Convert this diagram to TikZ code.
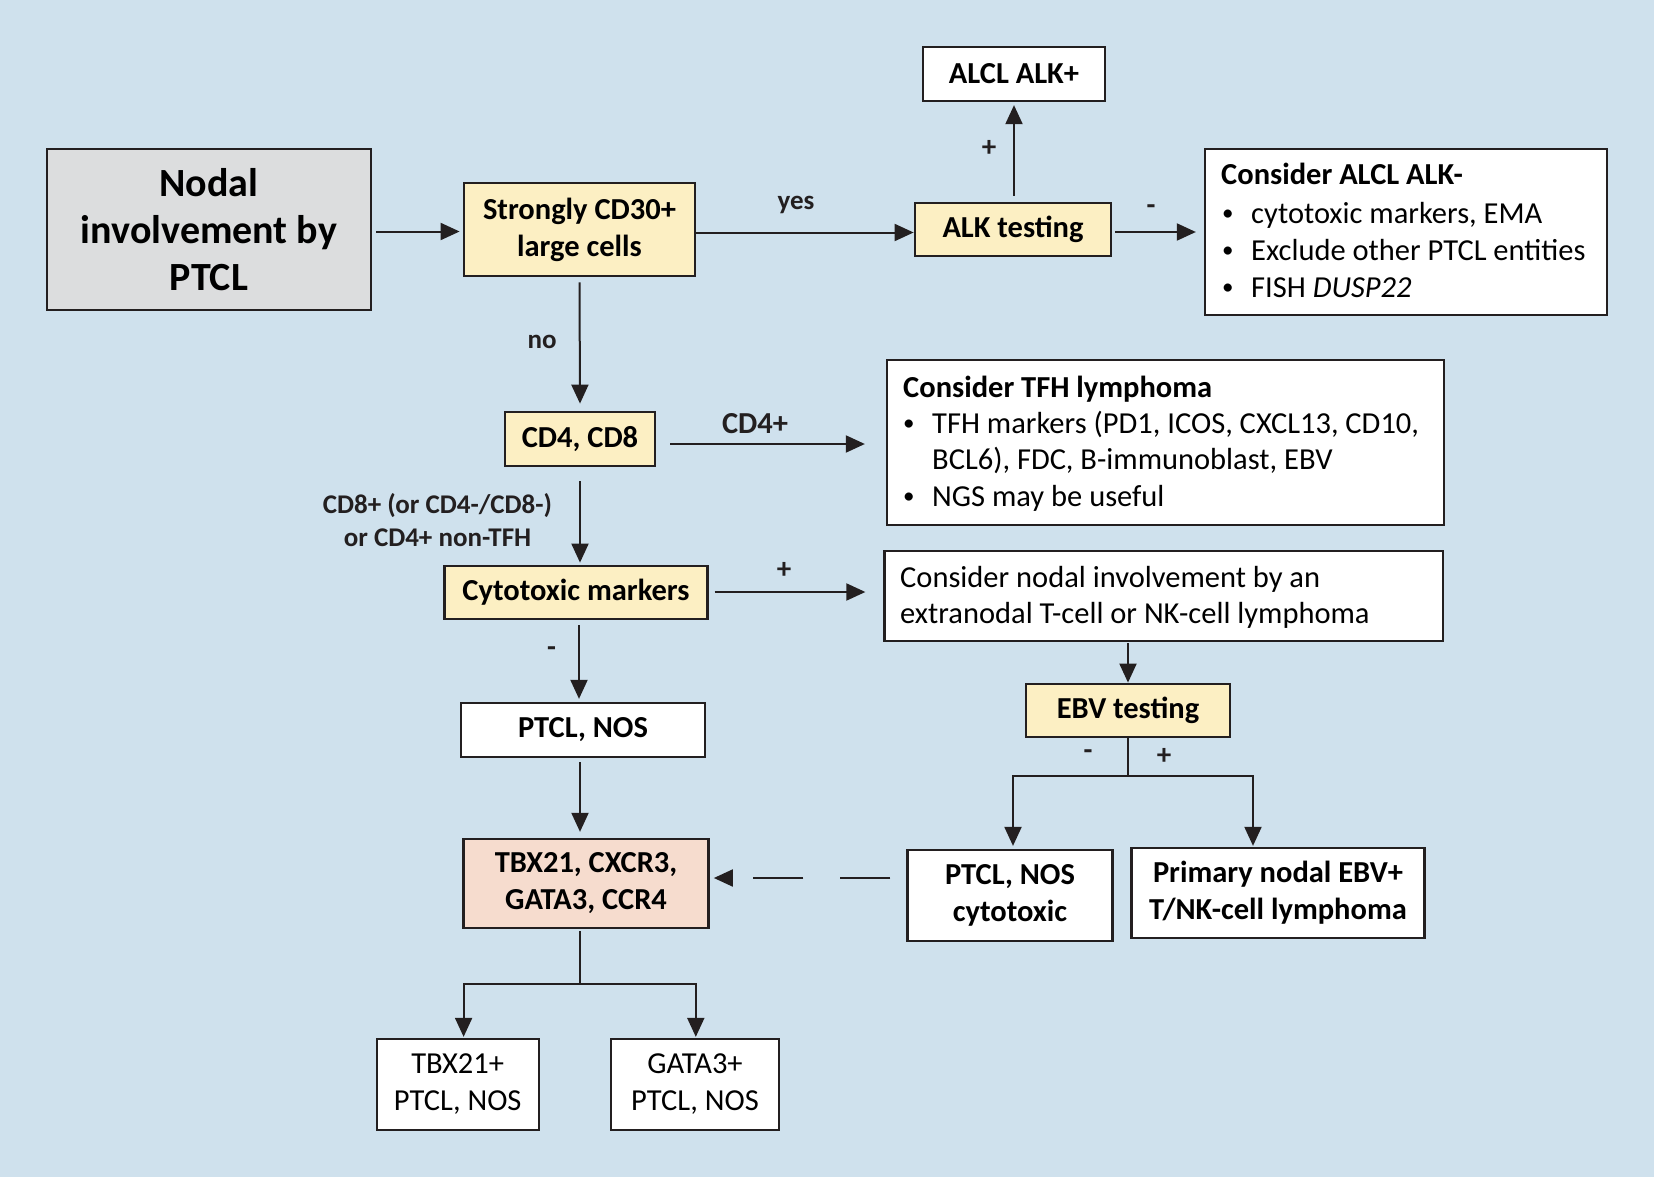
\documentclass[tikz,border=0pt]{standalone}
\usepackage{fontspec}
\setmainfont{Carlito}
\usetikzlibrary{arrows.meta,calc}
\definecolor{bgc}{HTML}{CFE1ED}
\definecolor{ylw}{HTML}{FCEFC3}
\definecolor{slm}{HTML}{F6DCCE}
\definecolor{gry}{HTML}{DCDDDE}
\definecolor{ln}{HTML}{231F20}
\newcommand{\mybul}{\raisebox{2.5pt}{\fontsize{23}{23}\selectfont\textbullet}}
\tikzset{
  box/.style={draw=ln, line width=2.3pt, inner sep=0pt, align=center},
  ybox/.style={box, fill=ylw, line width=2.8pt, font=\fontsize{30.5}{37}\selectfont\bfseries},
  wbox/.style={box, fill=white, font=\fontsize{30.5}{37}\selectfont\bfseries},
  rbox/.style={box, fill=white, font=\fontsize{30.5}{37}\selectfont},
  txt/.style={anchor=base west, inner sep=0pt, font=\fontsize{30.5}{37}\selectfont},
  btxt/.style={txt, font=\fontsize{30.5}{37}\selectfont\bfseries},
  lbl/.style={inner sep=0pt, font=\fontsize{27}{33}\selectfont\bfseries, text=ln, align=center},
  sgn/.style={lbl, font=\fontsize{29}{33}\selectfont\bfseries},
  arr/.style={draw=ln, line width=2pt, -{Triangle[length=19pt,width=17pt]}},
  arrb/.style={draw=ln, line width=2pt, {Triangle[length=19pt,width=17pt]}-{Triangle[length=19pt,width=17pt]}},
  ln/.style={draw=ln, line width=2pt}
}
\begin{document}
\begin{tikzpicture}[x=1pt,y=-1pt]
\fill[bgc] (0,0) rectangle (1654,1177);
\useasboundingbox (0,0) rectangle (1654,1177);

% nodes
\node[box, fill=gry, line width=2.2pt, minimum width=324pt, minimum height=161pt,
      font=\fontsize{40}{47}\selectfont\bfseries] (nodal) at (208.9,229.5) {Nodal\\involvement by\\PTCL};
\node[ybox, minimum width=231pt, minimum height=93pt] (cd30) at (579.5,229.5) {Strongly CD30+\\large cells};
\node[ybox, minimum width=196pt, minimum height=53pt] (alk) at (1013,229.5) {ALK testing};
\node[wbox, minimum width=182pt, minimum height=54pt] (alclpos) at (1014,74) {ALCL ALK+};
\node[rbox, minimum width=402pt, minimum height=166pt] (alclneg) at (1406,232) {};
\node[ybox, minimum width=150pt, minimum height=54pt] (cd48) at (580,439) {CD4, CD8};
\node[rbox, minimum width=557pt, minimum height=165pt] (tfh) at (1165.5,442.5) {};
\node[ybox, minimum width=262.5pt, minimum height=53pt] (cyto) at (576,592.5) {Cytotoxic markers};
\node[rbox, minimum width=558.5pt, minimum height=90pt] (nodalext) at (1163.75,596) {};
\node[wbox, minimum width=244.6pt, minimum height=54pt] (ptclnos) at (583,730) {PTCL, NOS};
\node[ybox, minimum width=204pt, minimum height=53pt] (ebv) at (1128,710.5) {EBV testing};
\node[box, fill=slm, minimum width=245pt, minimum height=89pt,
      font=\fontsize{30.5}{37}\selectfont\bfseries] (markers) at (586,883.5) {TBX21, CXCR3,\\GATA3, CCR4};
\node[wbox, minimum width=205pt, minimum height=90.7pt] (ptclcyto) at (1010,895.4) {PTCL, NOS\\cytotoxic};
\node[wbox, minimum width=293pt, minimum height=90.6pt] (ebvpos) at (1278,893) {Primary nodal EBV+\\T/NK-cell lymphoma};
\node[rbox, minimum width=162pt, minimum height=91pt] (tbxpos) at (457.7,1084.5) {TBX21+\\PTCL, NOS};
\node[rbox, minimum width=168pt, minimum height=91pt] (gatapos) at (695,1084.5) {GATA3+\\PTCL, NOS};

% texts inside list boxes
\node[btxt] (alclnegT) at (1221,185) {Consider ALCL ALK-};
\node[txt] (b1) at (1222,223) {\mybul};
\node[txt] (b1t) at (1251,223) {cytotoxic markers, EMA};
\node[txt] (b2) at (1222,260) {\mybul};
\node[txt] (b2t) at (1251,260) {Exclude other PTCL entities};
\node[txt] (b3) at (1222,297) {\mybul};
\node[txt] (b3t) at (1251,297) {FISH \textit{DUSP22}};

\node[btxt] (tfhT) at (903,397) {Consider TFH lymphoma};
\node[txt] (c1) at (903,433) {\mybul};
\node[txt] (c1t) at (932,433) {TFH markers (PD1, ICOS, CXCL13, CD10,};
\node[txt] (c1u) at (932,469) {BCL6), FDC, B-immunoblast, EBV};
\node[txt] (c2) at (903,506) {\mybul};
\node[txt] (c2t) at (932,506) {NGS may be useful};

\node[txt] (ne1) at (900,587) {Consider nodal involvement by an};
\node[txt] (ne2) at (900,623) {extranodal T-cell or NK-cell lymphoma};

% connectors
\draw[arr] ([xshift=4pt,yshift=-2pt]nodal.east) -- ([xshift=-3pt,yshift=-2pt]cd30.west);
\draw[arr] ([yshift=-3pt]cd30.east) -- ([yshift=-3pt]alk.west);
\draw[arr] ($(alclpos.south |- alk.north)+(0,-6)$) -- ([yshift=-3pt]alclpos.south);
\draw[arr] ([xshift=3pt,yshift=-2.5pt]alk.east) -- ([xshift=-8pt]alclneg.west);
\draw[arr] ([yshift=-5pt]cd30.south) -- ([yshift=7pt]cd48.north);
\draw[arr] ([xshift=14pt,yshift=-5pt]cd48.east) -- ([xshift=-21pt,yshift=-1.5pt]tfh.west);
\draw[arr] ($(cd48.south)+(0,14)$) -- ($(cd48.south |- cyto.north)+(0,-2)$);
\draw[arr] ($(cyto.east)+(6,-0.5)$) -- ($(nodalext.west |- cyto.east)+(-18,-0.5)$);
\draw[arr] ($(cyto.south)+(3,5)$) -- ($(cyto.south |- ptclnos.north)+(3,-3)$);
\draw[arr] ($(ptclnos.south)+(-3,4)$) -- ($(ptclnos.south |- markers.north)+(-3,-6)$);
\draw[arr] ($(ebv.north |- nodalext.south)+(0,1)$) -- (ebv.north);

\coordinate (ebvL) at (1013,776);
\coordinate (ebvR) at (1253,776);
\draw[ln] (ebv.south) -- (ebv.south |- ebvL);
\draw[arrb] ($(ebvL |- ptclcyto.north)+(0,-3)$) -- (ebvL) -- (ebvR) -- ($(ebvR |- ebvpos.north)+(0,-0.7)$);

\draw[arr, dash pattern=on 50pt off 37pt] ($(ptclcyto.west)+(-16,-17.4)$) -- ($(markers.east)+(4.2,-5.5)$);

\coordinate (mL) at (463.6,984);
\coordinate (mR) at (695.8,984);
\draw[ln] ($(markers.south)+(-6,2)$) -- ($(markers.south |- mL)+(-6,0)$);
\draw[arrb] ($(mL |- tbxpos.north)+(0,-1)$) -- (mL) -- (mR) -- ($(mR |- gatapos.north)+(0,-1)$);

% labels
\node[lbl] (yes) at (796,205) {yes};
\node[sgn] (p1) at (989,148) {+};
\node[sgn] (m1) at (1151,210) {-};
\node[lbl] (no) at (542,342) {no};
\node[lbl, font=\fontsize{30.5}{33}\selectfont\bfseries] (cd4p) at (755,424) {CD4+};
\node[lbl] (cd8l) at (437.5,520) {CD8+ (or CD4-/CD8-)\\or CD4+ non-TFH};
\node[sgn] (p2) at (784,570) {+};
\node[sgn] (m2) at (551.6,652) {-};
\node[sgn] (m3) at (1088,755) {-};
\node[sgn] (p3) at (1164,756) {+};
\end{tikzpicture}
\end{document}
